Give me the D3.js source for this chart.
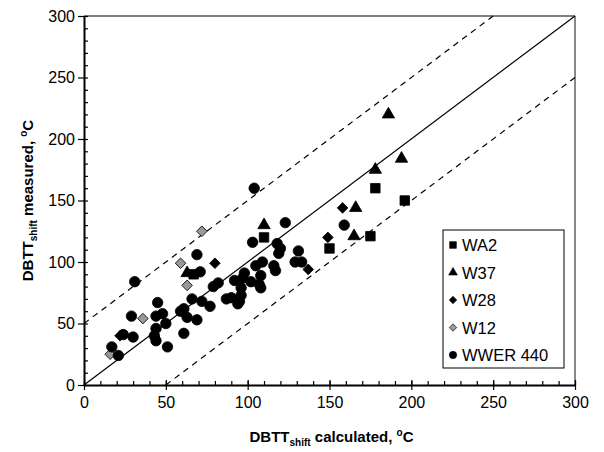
<!DOCTYPE html>
<html>
<head>
<meta charset="utf-8">
<script src="https://cdn.jsdelivr.net/npm/d3@7"></script>
<style>
  body { margin: 0; background: #fff; }
  text { font-family: "Liberation Sans", Arial, sans-serif; }
</style>
</head>
<body>
<div id="svg"></div>
<script>
var w = 604, h = 452;
var border = { top: 16, bottom: 67, left: 84, right: 29 };

// values: [calculated, measured]
var wa2 = [[67, 90], [110, 120], [150, 111], [175, 121], [178, 160], [196, 150]];
var w37 = [[63, 91], [110, 130], [165, 121], [166, 144], [178, 175], [186, 220], [194, 184]];
var w28 = [[22, 40], [80, 99], [137, 94], [149, 120], [158, 144]];
var w12 = [[16, 25], [36, 54], [59, 99], [63, 81], [72, 125]];
var wwer440 = [
  [17, 31], [21, 24], [24, 41], [30, 39], [29, 56], [31, 84], [44, 36], [43, 40],
  [44, 46], [44, 56], [45, 67], [48, 58], [50, 50], [51, 31], [59, 60], [61, 62],
  [61, 42], [63, 55], [66, 70], [69, 53], [69, 106], [71, 92], [72, 68], [77, 64],
  [79, 80], [82, 83], [87, 70], [90, 71], [92, 85], [94, 66], [95, 68], [96, 73],
  [96, 79], [97, 87], [98, 91], [102, 84], [103, 116], [104, 160], [105, 97], [107, 82],
  [108, 89], [109, 100], [108, 79], [116, 97], [117, 93], [118, 115], [120, 111], [119, 107],
  [123, 132], [131, 109], [129, 100], [133, 100], [159, 130]
];
var seriesNames = ['WA2', 'W37', 'W28', 'W12', 'WWER 440'];
var ticks = [0, 50, 100, 150, 200, 250, 300];
var minorTicks = d3.range(0, 301, 10);
var refLines = [
  { pts: [[0, 0], [300, 300]], dash: null },
  { pts: [[0, 50], [250, 300]], dash: '6,5' },
  { pts: [[50, 0], [300, 250]], dash: '6,5' }
];

var series = [
  { name: seriesNames[0], data: wa2, type: d3.symbolSquare, size: 90, rot: 0, fill: '#000' },
  { name: seriesNames[1], data: w37, type: d3.symbolTriangle, size: 66, rot: 0, fill: '#000' },
  { name: seriesNames[2], data: w28, type: d3.symbolSquare, size: 56, rot: 45, fill: '#000' },
  { name: seriesNames[3], data: w12, type: d3.symbolSquare, size: 56, rot: 45, fill: '#999' },
  { name: seriesNames[4], data: wwer440, type: d3.symbolCircle, size: 86, rot: 0, fill: '#000' }
];

const svg = d3.select('#svg').append('svg').attr('width', w).attr('height', h);

var x = d3.scaleLinear().domain([0, 300]).range([border.left, w - border.right]);
var y = d3.scaleLinear().domain([0, 300]).range([h - border.bottom, border.top]);

// frame: top black, right grey
svg.append('line')
  .attr('x1', x(0)).attr('x2', x(300)).attr('y1', y(300)).attr('y2', y(300))
  .attr('stroke', '#000').attr('stroke-width', 1.2);
svg.append('line')
  .attr('x1', x(300)).attr('x2', x(300)).attr('y1', y(300)).attr('y2', y(0))
  .attr('stroke', '#888').attr('stroke-width', 2);

// reference lines
var line = d3.line().x(d => x(d[0])).y(d => y(d[1]));
svg.selectAll('.ref')
  .data(refLines)
  .enter().append('path')
  .attr('class', 'ref')
  .attr('d', d => line(d.pts))
  .attr('fill', 'none')
  .attr('stroke', '#000')
  .attr('stroke-width', 1.2)
  .attr('stroke-dasharray', d => d.dash);

// axes: minor ticks inside, major crossing
svg.append('g')
  .attr('transform', `translate(0, ${y(0)})`)
  .call(d3.axisTop(x).tickValues(minorTicks).tickSize(4).tickFormat(''))
  .call(g => g.select('.domain').remove());
svg.append('g')
  .attr('transform', `translate(${x(0)}, 0)`)
  .call(d3.axisRight(y).tickValues(minorTicks).tickSize(4).tickFormat(''))
  .call(g => g.select('.domain').remove());

var xAxis = svg.append('g')
  .attr('transform', `translate(0, ${y(0)})`)
  .call(d3.axisBottom(x).tickValues(ticks).tickSizeInner(5).tickSizeOuter(0).tickPadding(7));
xAxis.selectAll('.tick line').attr('y1', -5);
var yAxis = svg.append('g')
  .attr('transform', `translate(${x(0)}, 0)`)
  .call(d3.axisLeft(y).tickValues(ticks).tickSizeInner(6).tickSizeOuter(0).tickPadding(3));
yAxis.selectAll('.tick line').attr('x1', 0);

svg.selectAll('.domain').attr('stroke-width', 2);
svg.selectAll('.tick line').attr('stroke-width', 1.2);
svg.selectAll('.tick text').attr('font-size', 16).attr('fill', '#000')
  .style('font-family', '"Liberation Sans", Arial, sans-serif');

// points
series.forEach(s => {
  var sym = d3.symbol().type(s.type).size(s.size);
  svg.append('g').selectAll('path')
    .data(s.data)
    .enter().append('path')
    .attr('d', sym)
    .attr('transform', d => `translate(${x(d[0])},${y(d[1])}) rotate(${s.rot})`)
    .attr('fill', s.fill)
    .attr('stroke', '#000')
    .attr('stroke-width', 0.8);
});

// legend
var lg = svg.append('g').attr('transform', 'translate(443, 230)');
lg.append('rect').attr('width', 121).attr('height', 138)
  .attr('fill', '#fff').attr('stroke', '#000').attr('stroke-width', 1);
series.forEach((s, i) => {
  var sym = d3.symbol().type(s.type).size(s.size * 0.5);
  var cy = 15 + i * 27.5;
  lg.append('path')
    .attr('d', sym)
    .attr('transform', `translate(10,${cy}) rotate(${s.rot})`)
    .attr('fill', s.fill).attr('stroke', '#000').attr('stroke-width', 0.6);
  lg.append('text')
    .attr('x', 19).attr('y', cy + 6)
    .attr('font-size', 16.5)
    .text(s.name);
});

// axis titles
var xt = svg.append('text')
  .attr('x', (x(0) + x(300)) / 2 + 2).attr('y', 442)
  .attr('text-anchor', 'middle')
  .attr('font-size', 15).attr('font-weight', 'bold');
xt.append('tspan').text('DBTT');
xt.append('tspan').attr('font-size', 10).attr('dy', 4).text('shift');
xt.append('tspan').attr('dy', -4).text(' calculated, ');
xt.append('tspan').attr('font-size', 10).attr('dy', -6).text('o');
xt.append('tspan').attr('dy', 6).text('C');

var yt = svg.append('text')
  .attr('transform', `translate(33, ${(y(0) + y(300)) / 2}) rotate(-90)`)
  .attr('text-anchor', 'middle')
  .attr('font-size', 15).attr('font-weight', 'bold');
yt.append('tspan').text('DBTT');
yt.append('tspan').attr('font-size', 10).attr('dy', 4).text('shift');
yt.append('tspan').attr('dy', -4).text(' measured, ');
yt.append('tspan').attr('font-size', 10).attr('dy', -6).text('o');
yt.append('tspan').attr('dy', 6).text('C');
</script>
</body>
</html>
